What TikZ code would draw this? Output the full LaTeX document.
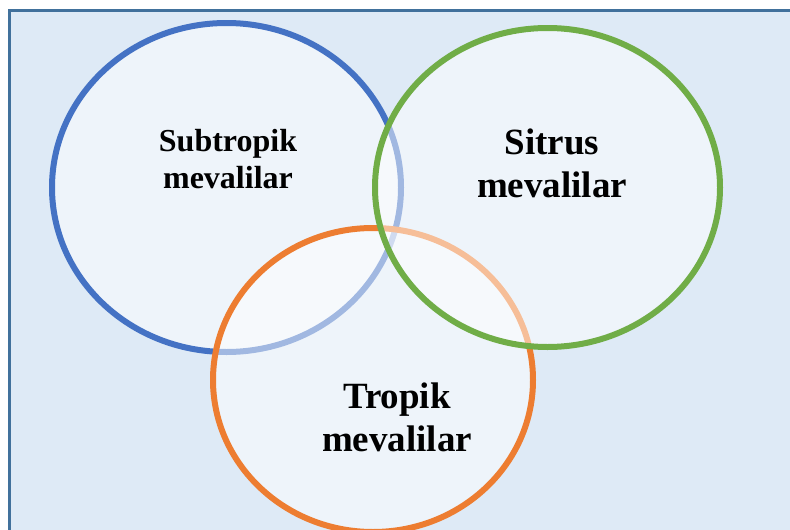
\documentclass[tikz,border=0pt]{standalone}
\usepackage{fontspec}
\setmainfont{Liberation Serif}
\usetikzlibrary{positioning}

\definecolor{bgblue}{HTML}{DEEAF6}
\definecolor{frameblue}{HTML}{41719C}
\definecolor{setblue}{HTML}{4472C4}
\definecolor{setgreen}{HTML}{70AD47}
\definecolor{setorange}{HTML}{ED7D31}

\begin{document}
\begin{tikzpicture}[
    x = 1pt, y = -1pt,
    venn/.style = {line width = 6pt, fill = white, fill opacity = 0.5, draw opacity = 1},
    smalltext/.style = {align = center, font = \bfseries\fontsize{32}{37}\selectfont},
    bigtext/.style = {align = center, font = \bfseries\fontsize{37}{43}\selectfont},
  ]
  \clip (0,0) rectangle (790,530);
  \fill[white] (0,0) rectangle (790,530);
  \draw[frameblue, line width = 2.5pt, fill = bgblue] (9.5,10.5) rectangle (800,540);

  \draw[venn, draw = setblue] (226.5,187.5) ellipse [x radius = 174.5pt, y radius = 164.5pt];
  \draw[venn, draw = setorange] (373,380) ellipse [x radius = 160pt, y radius = 152pt];
  \draw[venn, draw = setgreen] (547.5,187.5) ellipse [x radius = 172.5pt, y radius = 159.5pt];

  \node[smalltext] (subtropik) at (228,159) {Subtropik\\mevalilar};
  \node[bigtext] (sitrus) at (552,163) {Sitrus\\mevalilar};
  \node[bigtext] (tropik) at (397,417) {Tropik\\mevalilar};
\end{tikzpicture}
\end{document}
